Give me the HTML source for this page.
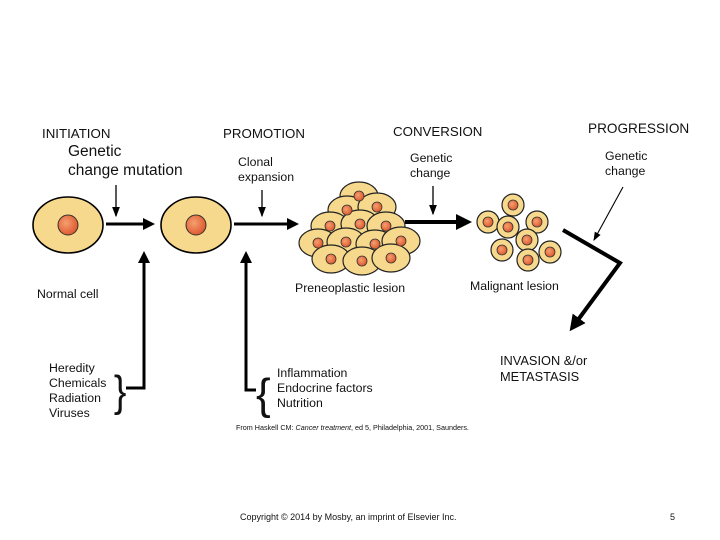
<!DOCTYPE html>
<html><head><style>
html,body{margin:0;padding:0;background:#fff;}
svg{display:block}
text{font-family:"Liberation Sans",Arial,sans-serif;fill:#111}
</style></head><body>
<svg width="720" height="540" viewBox="0 0 720 540" xmlns="http://www.w3.org/2000/svg">
<defs>
<radialGradient id="nuc" cx="40%" cy="40%" r="60%"><stop offset="0" stop-color="#f4a070"/><stop offset="1" stop-color="#e05a30"/></radialGradient>
<marker id="ah" markerWidth="4" markerHeight="4" refX="3" refY="2" orient="auto" markerUnits="strokeWidth"><path d="M0,0 L4,2 L0,4 z" fill="#000"/></marker>
<marker id="ahs" markerWidth="8" markerHeight="8" refX="7" refY="4" orient="auto" markerUnits="strokeWidth"><path d="M0,1 L8,4 L0,7 z" fill="#000"/></marker>
</defs>
<text x="42" y="138" font-size="13.3">INITIATION</text>
<text x="68" y="156" font-size="15.5">Genetic</text>
<text x="68" y="175" font-size="15.5">change mutation</text>
<text x="223" y="138" font-size="13.3">PROMOTION</text>
<text x="238" y="166" font-size="12.3">Clonal</text>
<text x="238" y="181" font-size="12.3">expansion</text>
<text x="393" y="136" font-size="13.3">CONVERSION</text>
<text x="410" y="162" font-size="12.3">Genetic</text>
<text x="410" y="177" font-size="12.3">change</text>
<text x="588" y="133" font-size="13.6">PROGRESSION</text>
<text x="605" y="160" font-size="12.3">Genetic</text>
<text x="605" y="175" font-size="12.3">change</text>
<line x1="116" y1="185" x2="116" y2="216" stroke="#000" stroke-width="1.3" marker-end="url(#ahs)"/>
<line x1="262" y1="190" x2="262" y2="216" stroke="#000" stroke-width="1.3" marker-end="url(#ahs)"/>
<line x1="433" y1="186" x2="433" y2="214" stroke="#000" stroke-width="1.3" marker-end="url(#ahs)"/>
<line x1="623" y1="187" x2="594" y2="240" stroke="#000" stroke-width="1.1" marker-end="url(#ahs)"/>
<ellipse cx="68" cy="225" rx="35" ry="28" fill="#f6d98c" stroke="#000" stroke-width="1.6"/>
<circle cx="68" cy="225" r="10" fill="url(#nuc)" stroke="#333" stroke-width="1"/>
<ellipse cx="196" cy="225" rx="35" ry="28" fill="#f6d98c" stroke="#000" stroke-width="1.6"/>
<circle cx="196" cy="225" r="10" fill="url(#nuc)" stroke="#333" stroke-width="1"/>
<line x1="106" y1="224" x2="152" y2="224" stroke="#000" stroke-width="3" marker-end="url(#ah)"/>
<line x1="234" y1="224" x2="296" y2="224" stroke="#000" stroke-width="3" marker-end="url(#ah)"/>
<line x1="405" y1="222" x2="468" y2="222" stroke="#000" stroke-width="4" marker-end="url(#ah)"/>
<path d="M126,388 H144 V254" fill="none" stroke="#000" stroke-width="3" marker-end="url(#ah)"/>
<path d="M256,390 H246 V254" fill="none" stroke="#000" stroke-width="3" marker-end="url(#ah)"/>
<path d="M563,230 L620,263 L572,328" fill="none" stroke="#000" stroke-width="4" marker-end="url(#ah)"/>
<g fill="#f6d98c" stroke="#222" stroke-width="1.2">
<ellipse cx="359" cy="196" rx="19" ry="14"/>
<ellipse cx="347" cy="210" rx="19" ry="14"/>
<ellipse cx="377" cy="207" rx="19" ry="14"/>
<ellipse cx="330" cy="226" rx="19" ry="14"/>
<ellipse cx="360" cy="224" rx="19" ry="14"/>
<ellipse cx="386" cy="226" rx="19" ry="14"/>
<ellipse cx="318" cy="243" rx="19" ry="14"/>
<ellipse cx="346" cy="242" rx="19" ry="14"/>
<ellipse cx="375" cy="244" rx="19" ry="14"/>
<ellipse cx="401" cy="241" rx="19" ry="14"/>
<ellipse cx="331" cy="259" rx="19" ry="14"/>
<ellipse cx="362" cy="261" rx="19" ry="14"/>
<ellipse cx="391" cy="258" rx="19" ry="14"/>
</g>
<g fill="url(#nuc)" stroke="#333" stroke-width="0.8">
<circle cx="359" cy="196" r="5"/><circle cx="347" cy="210" r="5"/><circle cx="377" cy="207" r="5"/>
<circle cx="330" cy="226" r="5"/><circle cx="360" cy="224" r="5"/><circle cx="386" cy="226" r="5"/>
<circle cx="318" cy="243" r="5"/><circle cx="346" cy="242" r="5"/><circle cx="375" cy="244" r="5"/>
<circle cx="401" cy="241" r="5"/><circle cx="331" cy="259" r="5"/><circle cx="362" cy="261" r="5"/><circle cx="391" cy="258" r="5"/>
</g>
<g fill="#f6d98c" stroke="#222" stroke-width="1.2">
<circle cx="488" cy="222" r="11"/><circle cx="513" cy="205" r="11"/><circle cx="508" cy="227" r="11"/>
<circle cx="537" cy="222" r="11"/><circle cx="527" cy="240" r="11"/><circle cx="502" cy="250" r="11"/>
<circle cx="550" cy="252" r="11"/><circle cx="528" cy="260" r="11"/>
</g>
<g fill="url(#nuc)" stroke="#333" stroke-width="0.8">
<circle cx="488" cy="222" r="5"/><circle cx="513" cy="205" r="5"/><circle cx="508" cy="227" r="5"/>
<circle cx="537" cy="222" r="5"/><circle cx="527" cy="240" r="5"/><circle cx="502" cy="250" r="5"/>
<circle cx="550" cy="252" r="5"/><circle cx="528" cy="260" r="5"/>
</g>
<text x="37" y="298" font-size="12.3">Normal cell</text>
<text x="295" y="292" font-size="12.3">Preneoplastic lesion</text>
<text x="470" y="290" font-size="12.3">Malignant lesion</text>
<text x="500" y="365" font-size="12.8">INVASION &amp;/or</text>
<text x="500" y="381" font-size="12.8">METASTASIS</text>
<text x="49" y="372" font-size="12.3">Heredity</text>
<text x="49" y="387" font-size="12.3">Chemicals</text>
<text x="49" y="402" font-size="12.3">Radiation</text>
<text x="49" y="417" font-size="12.3">Viruses</text>
<text x="114" y="406" font-size="44" font-weight="100" transform="scale(0.85,1) translate(20,0)">}</text>
<text x="256" y="409" font-size="44" font-weight="100">{</text>
<text x="277" y="377" font-size="12.3">Inflammation</text>
<text x="277" y="392" font-size="12.3">Endocrine factors</text>
<text x="277" y="407" font-size="12.3">Nutrition</text>
<text x="236" y="430" font-size="7.2">From Haskell CM: <tspan font-style="italic">Cancer treatment</tspan>, ed 5, Philadelphia, 2001, Saunders.</text>
<text x="240" y="520" font-size="9">Copyright © 2014 by Mosby, an imprint of Elsevier Inc.</text>
<text x="670" y="520" font-size="9">5</text>
</svg>
</body></html>
